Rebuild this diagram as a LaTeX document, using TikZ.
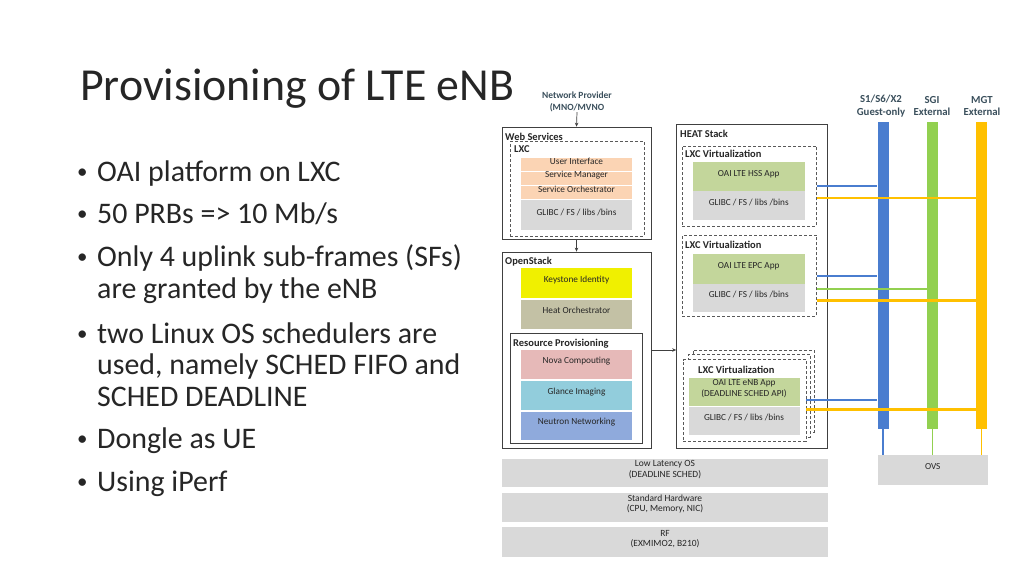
\documentclass[tikz,border=0pt]{standalone}
\usepackage{fontspec}
\setmainfont{Carlito}
\usetikzlibrary{arrows.meta,positioning,fit}

\definecolor{ink}{HTML}{262626}
\definecolor{slate}{HTML}{3A4F5C}
\definecolor{orng}{HTML}{FBD4B4}
\definecolor{grayfill}{HTML}{D9D9D9}
\definecolor{appgrn}{HTML}{C3D69B}
\definecolor{keyyel}{HTML}{F0F000}
\definecolor{khaki}{HTML}{C3C1A5}
\definecolor{novapink}{HTML}{E6B9B8}
\definecolor{glancecyan}{HTML}{92CDDC}
\definecolor{neutronblue}{HTML}{8FAADC}
\definecolor{barblue}{HTML}{4A7DCF}
\definecolor{bargrn}{HTML}{92D050}
\definecolor{baryel}{HTML}{FFC000}

\begin{document}
\begin{tikzpicture}[x=1bp,y=-1bp,>=Stealth,
 frame/.style={draw=black!75,line width=0.7bp,inner sep=0pt},
 lxc/.style={draw=black!65,dash pattern=on 3bp off 2bp,line width=0.6bp,inner sep=0pt},
 layer/.style={inner sep=0pt,align=center,text=ink,font=\fontsize{9.3}{11.5}\selectfont},
 ttl/.style={anchor=base west,inner sep=0pt,text=ink,font=\fontsize{10.5}{12}\selectfont\bfseries},
 base/.style={layer,fill=grayfill,font=\fontsize{9.5}{10.5}\selectfont},
 toplbl/.style={align=center,inner sep=0pt,text=slate,font=\fontsize{9.5}{12}\selectfont\bfseries},
 bul/.style={anchor=base west,inner sep=0pt,text=ink,font=\fontsize{30}{32}\selectfont},
 dot/.style={anchor=base west,inner sep=0pt,text=ink,yshift=3bp,font=\fontsize{21}{24}\selectfont},
 arr/.style={->,draw=black!75,line width=0.7bp,-{Stealth[length=4bp,width=3.5bp]}},
 link/.style={line width=1.8bp},
 ylink/.style={line width=2.8bp,baryel}]
\useasboundingbox[fill=white] (0,0) rectangle (1024,576);

% title and bullets
\node[anchor=base west,inner sep=0pt,text=ink,font=\fontsize{46}{50}\selectfont]
 (title) at (80,101) {Provisioning of LTE eNB};
\node[dot] (d1) at (77,182) {\textbullet};
\node[bul] (b1) at (97,182) {OAI platform on LXC};
\node[dot] (d2) at (77,224) {\textbullet};
\node[bul] (b2) at (97,224) {50 PRBs => 10 Mb/s};
\node[dot] (d3) at (77,267) {\textbullet};
\node[bul] (b3) at (97,267) {Only 4 uplink sub-frames (SFs)};
\node[bul] (b3b) at (97,299) {are granted by the eNB};
\node[dot] (d4) at (77,343) {\textbullet};
\node[bul] (b4) at (97,343) {two Linux OS schedulers are};
\node[bul] (b4b) at (97,374) {used, namely SCHED FIFO and};
\node[bul] (b4c) at (97,406) {SCHED DEADLINE};
\node[dot] (d5) at (77,448) {\textbullet};
\node[bul] (b5) at (97,448) {Dongle as UE};
\node[dot] (d6) at (77,491) {\textbullet};
\node[bul] (b6) at (97,491) {Using iPerf};

% web services
\node[toplbl] (net) at (577,102) {Network Provider\\(MNO/MVNO};
\node[frame,fit={(502,127) (651,239)}] (web) {};
\node[lxc,fit={(510,141.5) (644,236)}] (webl) {};
\node[ttl] (webt) at (505,141) {Web Services};
\node[ttl] (webx) at (514,153) {LXC};
\node[layer,fill=orng,fit={(521,158) (632,171)}] (ui) {User Interface};
\node[layer,fill=orng,fit={(521,172.5) (632,185)}] (sm) {Service Manager};
\node[layer,fill=orng,fit={(521,186.5) (632,199)}] (so) {Service Orchestrator};
\node[layer,fill=grayfill,fit={(521,200.5) (632,230.5)}] (glw) {GLIBC / FS / libs /bins};
\draw[arr] (net.south) -- (web.north);

% openstack
\node[frame,fit={(502,252) (651,448)}] (os) {};
\node[ttl] (ost) at (505,265) {OpenStack};
\node[layer,fill=keyyel,fit={(521,268.5) (632,297.5)}] (key) {Keystone Identity};
\node[layer,fill=khaki,fit={(521,299.5) (632,328.5)}] (orch) {Heat Orchestrator};
\node[frame,fit={(510,333.5) (642,443.5)}] (rp) {};
\node[ttl] (rpt) at (513,346) {Resource Provisioning};
\node[layer,fill=novapink,fit={(521,350) (632,378.5)}] (nova) {Nova Compouting};
\node[layer,fill=glancecyan,fit={(521,380.5) (632,409.5)}] (glance) {Glance Imaging};
\node[layer,fill=neutronblue,fit={(521,411.5) (632,440)}] (neutron) {Neutron Networking};
\draw[arr] (web.south) -- (os.north);

% heat stack
\node[frame,fit={(676.5,124) (827.5,448)}] (heat) {};
\node[ttl] (heatt) at (680,137.5) {HEAT Stack};
\node[lxc,fit={(682,146) (816.5,226)}] (lxcA) {};
\node[ttl] (lxcAt) at (685,157.5) {LXC Virtualization};
\node[layer,fill=appgrn,fit={(693,162.5) (804.5,191)}] (hss) {OAI LTE HSS App};
\node[layer,fill=grayfill,fit={(693,191.5) (804.5,220.5)}] (glA) {GLIBC / FS / libs /bins};
\node[lxc,fit={(682,235.5) (816.5,316)}] (lxcB) {};
\node[ttl] (lxcBt) at (685,248.5) {LXC Virtualization};
\node[layer,fill=appgrn,fit={(693,254) (804.5,283.5)}] (epc) {OAI LTE EPC App};
\node[layer,fill=grayfill,fit={(693,284) (804.5,312)}] (glB) {GLIBC / FS / libs /bins};
\node[lxc,fill=white,fit={(693,350) (814,432)}] (lxcC3) {};
\node[lxc,fill=white,fit={(688,354.5) (810,437)}] (lxcC2) {};
\node[lxc,fill=white,fit={(683,359.5) (806,441)}] (lxcC) {};
\node[ttl] (lxcCt) at (698,373.5) {LXC Virtualization};
\node[layer,fill=appgrn,fit={(688.5,377.5) (799.5,406)}] (enb) {OAI LTE eNB App\\(DEADLINE SCHED API)};
\node[layer,fill=grayfill,fit={(688.5,406.5) (799.5,434.5)}] (glC) {GLIBC / FS / libs /bins};
\draw[arr] (os.east) -- (os.east -| heat.west);

% platform layers
\node[base,fit={(502,458.5) (828,487)}] (low) {Low Latency OS\\(DEADLINE SCHED)};
\node[base,fit={(502,492.5) (828,521.5)}] (hw) {Standard Hardware\\(CPU, Memory, NIC)};
\node[base,fit={(502,527) (828,557)}] (rf) {RF\\(EXMIMO2, B210)};

% networks
\node[toplbl,font=\fontsize{10.8}{12.5}\selectfont\bfseries] (s1t) at (881,106) {S1/S6/X2\\Guest-only};
\node[toplbl,font=\fontsize{10.8}{12.5}\selectfont\bfseries] (sgit) at (932,106) {SGI\\External};
\node[toplbl,font=\fontsize{10.8}{12.5}\selectfont\bfseries] (mgtt) at (982,106) {MGT\\External};
\node[inner sep=0pt,fill=barblue,fit={(877.5,122.5) (888.5,428.5)}] (s1) {};
\node[inner sep=0pt,fill=bargrn,fit={(927,122.5) (938,428.5)}] (sgi) {};
\node[inner sep=0pt,fill=baryel,fit={(976,122.5) (987,428.5)}] (mgt) {};
\node[layer,fill=grayfill,fit={(877.5,455) (988,484.5)}] (ovs) {OVS};
\draw[link,barblue] (s1.south) -- (s1.south |- ovs.north);
\draw[link,bargrn] (sgi.south) -- (sgi.south |- ovs.north);
\draw[link,baryel] (mgt.south) -- (mgt.south |- ovs.north);

% links from containers
\coordinate (hssy) at ([yshift=-12pt]lxcA.east);
\coordinate (epcg) at ([yshift=-13.5pt]lxcB.east);
\coordinate (epcy) at ([yshift=-25pt]lxcB.east);
\coordinate (enby) at ([yshift=-9pt]lxcC.east);
\draw[link,barblue] (lxcA.east) -- (lxcA.east -| s1.west);
\draw[ylink] (hssy) -- (hssy -| mgt.west);
\draw[link,barblue] (lxcB.east) -- (lxcB.east -| s1.west);
\draw[link,bargrn] (epcg) -- (epcg -| sgi.west);
\draw[ylink] (epcy) -- (epcy -| mgt.west);
\draw[link,barblue] (lxcC.east) -- (lxcC.east -| s1.west);
\draw[ylink] (enby) -- (enby -| mgt.west);
\end{tikzpicture}
\end{document}
